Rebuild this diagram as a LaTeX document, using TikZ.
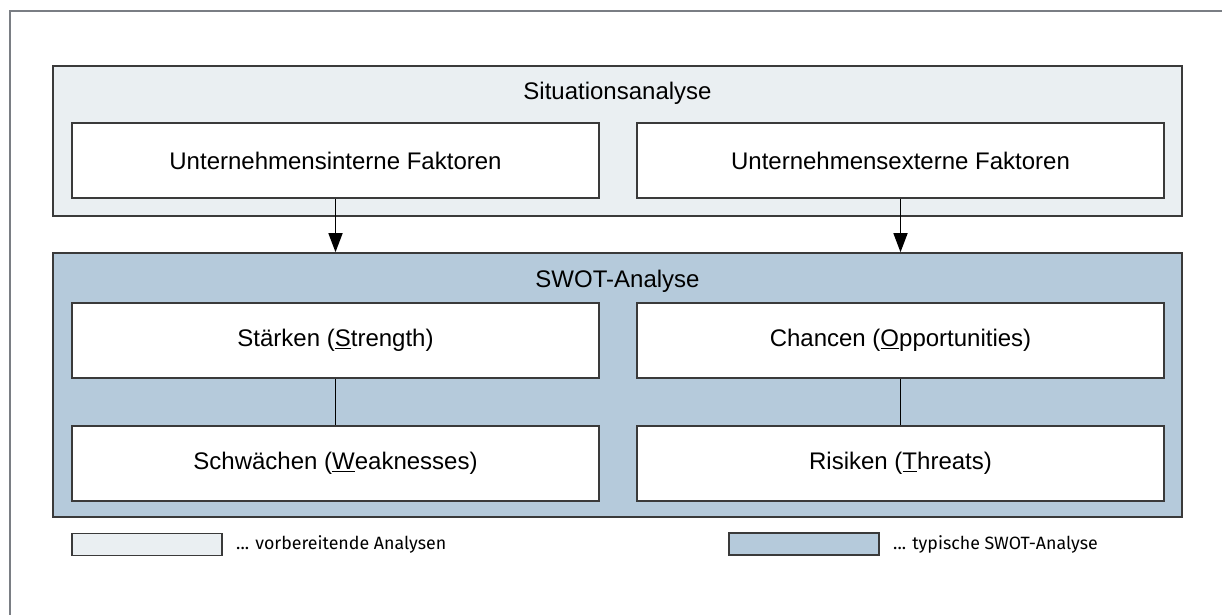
\documentclass[tikz,border=0pt]{standalone}
\usepackage{fontspec}
\setmainfont{Liberation Sans}
\newfontfamily\legendfont{Fira Sans}
\usepackage{tikz}
\usetikzlibrary{arrows.meta,positioning}

\definecolor{prepfill}{HTML}{EAEFF2}
\definecolor{swotfill}{HTML}{B5CADB}
\definecolor{boxline}{HTML}{3A3A3A}
\definecolor{frameline}{HTML}{7A7E84}

\begin{document}
\begin{tikzpicture}[x=1pt,y=-1pt,>={Triangle[length=19pt,width=14pt]},
outer/.style={
draw=boxline,
line width=1.6pt,
minimum width=1129pt,
},
factor/.style={
draw=boxline,
fill=white,
line width=1.4pt,
minimum width=527pt,
minimum height=75pt,
font=\fontsize{24}{28}\selectfont,
},
title/.style={
font=\fontsize{24}{28}\selectfont,
},
key/.style={
draw=boxline,
line width=1.4pt,
minimum width=150pt,
minimum height=22pt,
},
keytext/.style={
anchor=west,
font=\legendfont\fontsize{17.8}{20}\selectfont,
}
]
\useasboundingbox (0,0) rectangle (1222,615);
\draw[frameline,line width=1.8pt] (10,615) -- (10,11) -- (1222,11);

% preparatory analysis
\node [outer,fill=prepfill,minimum height=150pt] (situation) at (617.5,141) {};
\node [title] (situationTitle) at (617.5,93) {Situationsanalyse};
\node [factor] (intern) at (335.5,160.5) {Unternehmensinterne Faktoren};
\node [factor] (extern) at (900.5,160.5) {Unternehmensexterne Faktoren};

% SWOT analysis
\node [outer,fill=swotfill,minimum height=264pt] (swot) at (617.5,385) {};
\node [title] (swotTitle) at (617.5,281) {SWOT-Analyse};
\node [factor] (strength) at (335.5,340.5) {Stärken (\underline{S}trength)};
\node [factor] (chances) at (900.5,340.5) {Chancen (\underline{O}pportunities)};
\node [factor] (weakness) at (335.5,463.5) {Schwächen (\underline{W}eaknesses)};
\node [factor] (threats) at (900.5,463.5) {Risiken (\underline{T}hreats)};

\foreach \i in {intern,extern}
	\draw[->,line width=1.5pt] (\i.south) -- (\i.south |- swot.north);
\draw[line width=1.5pt] (strength) -- (weakness);
\draw[line width=1.5pt] (chances) -- (threats);

% legend
\node [key,fill=prepfill] (prepKey) at (147,544.5) {};
\node [keytext,right=10pt of prepKey] (prepText) {... vorbereitende Analysen};
\node [key,fill=swotfill] (swotKey) at (804,544) {};
\node [keytext,right=10pt of swotKey] (swotText) {... typische SWOT-Analyse};
\end{tikzpicture}
\end{document}
